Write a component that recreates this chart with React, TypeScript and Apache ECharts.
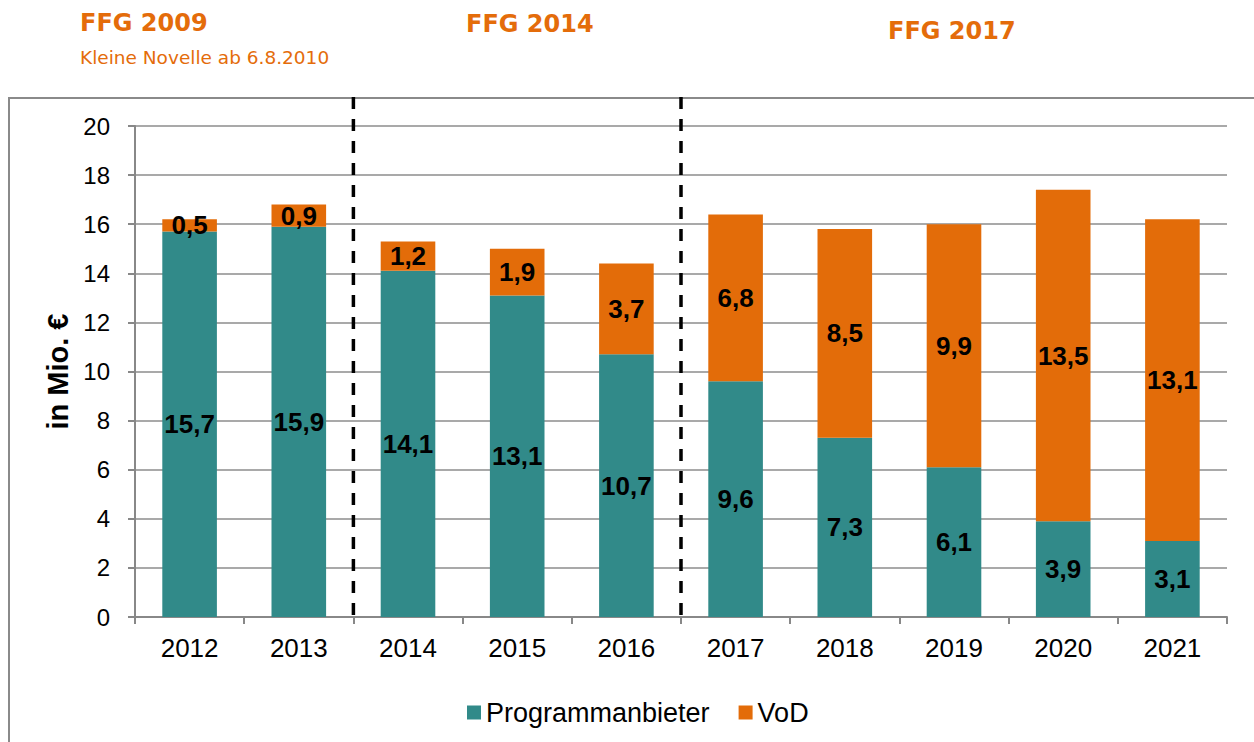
import React, { useEffect, useRef } from "react";
import * as echarts from "echarts";

const years = ["2012", "2013", "2014", "2015", "2016", "2017", "2018", "2019", "2020", "2021"];
const programmanbieter = [15.7, 15.9, 14.1, 13.1, 10.7, 9.6, 7.3, 6.1, 3.9, 3.1];
const vod = [0.5, 0.9, 1.2, 1.9, 3.7, 6.8, 8.5, 9.9, 13.5, 13.1];
const dividerAfter = [1, 4]; // separator after 2013 and after 2016

const TEAL = "#318A89";
const ORANGE = "#E36C09";
const TITLE = "#E46C0A";
const SANS = "'Liberation Sans', Arial, sans-serif";
const TITLE_FONT = "'DejaVu Sans', Tahoma, sans-serif";

export default function App() {
  const ref = useRef<HTMLDivElement>(null);
  useEffect(() => {
    const el = ref.current!;
    const chart = echarts.init(el, undefined, { renderer: "svg" });
    const fmt = (p: any) => String(p.value).replace(".", ",");
    const labelStyle = {
      show: true,
      position: "inside",
      color: "#000",
      fontWeight: "bold",
      fontSize: 26,
      fontFamily: SANS,
      formatter: fmt,
    };
    chart.setOption({
      animation: false,
      backgroundColor: "#fff",
      textStyle: { fontFamily: SANS },
      grid: { left: 135, right: 27, top: 126, bottom: 125, containLabel: false },
      legend: {
        top: 699,
        left: 467,
        padding: 0,
        itemWidth: 14,
        itemHeight: 14,
        itemGap: 29,
        icon: "rect",
        textStyle: { fontSize: 27, color: "#000", fontFamily: SANS },
        data: ["Programmanbieter", "VoD"],
      },
      xAxis: {
        type: "category",
        data: years,
        axisLine: { lineStyle: { color: "#888", width: 2 } },
        axisTick: { show: true, length: 7, lineStyle: { color: "#888", width: 2 } },
        axisLabel: { fontSize: 26, color: "#000", margin: 18 },
      },
      yAxis: {
        type: "value",
        min: 0,
        max: 20,
        interval: 2,
        name: "in Mio. €",
        nameLocation: "middle",
        nameGap: 59,
        nameRotate: 90,
        nameTextStyle: { fontSize: 29, fontWeight: "bold", color: "#000" },
        axisLine: { show: true, lineStyle: { color: "#888", width: 2 } },
        axisTick: { show: true, length: 7, lineStyle: { color: "#888", width: 2 } },
        axisLabel: { fontSize: 24, color: "#000", margin: 25 },
        splitLine: { lineStyle: { color: "#8c8c8c", width: 1.5 } },
      },
      series: [
        {
          name: "Programmanbieter",
          type: "bar",
          stack: "total",
          barWidth: "50%",
          data: programmanbieter,
          itemStyle: { color: TEAL },
          label: labelStyle,
        },
        {
          name: "VoD",
          type: "bar",
          stack: "total",
          barWidth: "50%",
          data: vod,
          itemStyle: { color: ORANGE },
          label: labelStyle,
        },
      ],
    });

    const zeroY = chart.convertToPixel({ yAxisIndex: 0 }, 0) as number;
    const dividers = dividerAfter.map((i) => {
      const a = chart.convertToPixel({ xAxisIndex: 0 }, years[i]) as number;
      const b = chart.convertToPixel({ xAxisIndex: 0 }, years[i + 1]) as number;
      const x = (a + b) / 2;
      return {
        type: "line",
        z: 100,
        shape: { x1: x, y1: 97, x2: x, y2: zeroY },
        style: { stroke: "#000", lineWidth: 3.5, lineDash: [12, 10] },
      };
    });

    const t = (text: string, x: number, y: number, font: string) => ({
      type: "text",
      x,
      y,
      style: { text, fill: TITLE, font, verticalAlign: "middle", align: "left" },
    });

    chart.setOption({
      graphic: [
        {
          type: "rect",
          z: -10,
          shape: { x: 9, y: 98, width: 1300, height: 700 },
          style: { fill: "none", stroke: "#8a8a8a", lineWidth: 2 },
        },
        t("FFG 2009", 80, 23, `bold 24px ${TITLE_FONT}`),
        t("Kleine Novelle ab 6.8.2010", 80, 57, `18.5px ${TITLE_FONT}`),
        t("FFG 2014", 466, 24, `bold 24px ${TITLE_FONT}`),
        t("FFG 2017", 888, 31, `bold 24px ${TITLE_FONT}`),
        ...dividers,
      ],
    });
    return () => chart.dispose();
  }, []);
  return <div ref={ref} style={{ width: 1254, height: 742, position: "absolute", left: 0, top: 0 }} />;
}
